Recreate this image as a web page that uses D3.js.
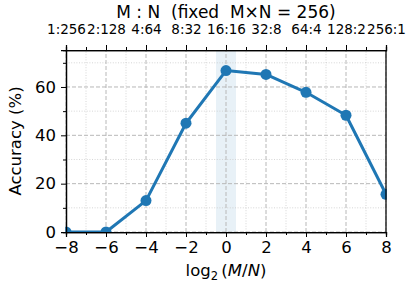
<!DOCTYPE html>
<html><head><meta charset="utf-8">
<script src="https://cdn.jsdelivr.net/npm/d3@7"></script>
<style>body{margin:0;background:#fff}svg{font-family:"DejaVu Sans",sans-serif}</style>
</head><body><div id="c"></div>
<script>
const xs = [-8, -6, -4, -2, 0, 2, 4, 6, 8];
const acc = [0, 0, 13, 45, 66.8, 65.2, 57.8, 48.3, 15.6];
const topLabels = ["1:256", "2:128", "4:64", "8:32", "16:16", "32:8", "64:4", "128:2", "256:1"];
const yTicks = [0, 20, 40, 60];
const xTicks = [-8, -6, -4, -2, 0, 2, 4, 6, 8];

const W = 406, H = 285;
const m = {l: 66, r: 20, t: 50, b: 53};
const svg = d3.select("#c").append("svg").attr("width", W).attr("height", H);
const x = d3.scaleLinear().domain([-8, 8]).range([m.l, W - m.r]);
const y = d3.scaleLinear().domain([0, 75.3]).range([H - m.b, m.t]);
const color = "#1f77b4";

// highlight band
svg.append("rect").attr("x", x(-0.5)).attr("width", x(0.5) - x(-0.5))
  .attr("y", y.range()[1]).attr("height", y.range()[0] - y.range()[1])
  .attr("fill", color).attr("opacity", 0.1);

// grids
const g = svg.append("g");
d3.range(-7, 8, 2).forEach(v => g.append("line").attr("x1", x(v)).attr("x2", x(v)).attr("y1", y.range()[0]).attr("y2", y.range()[1])
  .attr("stroke", "#ccc").attr("stroke-width", 0.8).attr("stroke-dasharray", "1,1.6"));
[10, 30, 50, 70].forEach(v => g.append("line").attr("x1", m.l).attr("x2", W - m.r).attr("y1", y(v)).attr("y2", y(v))
  .attr("stroke", "#ccc").attr("stroke-width", 0.8).attr("stroke-dasharray", "1,1.6"));
xTicks.forEach(v => g.append("line").attr("x1", x(v)).attr("x2", x(v)).attr("y1", y.range()[0]).attr("y2", y.range()[1])
  .attr("stroke", "#b8b8b8").attr("stroke-width", 1).attr("stroke-dasharray", "4,2"));
yTicks.forEach(v => g.append("line").attr("x1", m.l).attr("x2", W - m.r).attr("y1", y(v)).attr("y2", y(v))
  .attr("stroke", "#b8b8b8").attr("stroke-width", 1).attr("stroke-dasharray", "4,2"));

// line + points
const pts = xs.map((v, i) => [v, acc[i]]);
svg.append("path").datum(pts).attr("fill", "none").attr("stroke", color).attr("stroke-width", 3)
  .attr("stroke-linejoin", "round")
  .attr("d", d3.line().x(d => x(d[0])).y(d => y(d[1])));
svg.append("g").selectAll("circle").data(pts).join("circle")
  .attr("cx", d => x(d[0])).attr("cy", d => y(d[1])).attr("r", 5.5).attr("fill", color);

// clip marks at frame
svg.append("rect").attr("x", 0).attr("y", H - m.b + 0.75).attr("width", W).attr("height", m.b).attr("fill", "#fff");
svg.append("rect").attr("x", 0).attr("y", 0).attr("width", m.l - 0.75).attr("height", H).attr("fill", "#fff");
svg.append("rect").attr("x", W - m.r + 0.75).attr("y", 0).attr("width", m.r).attr("height", H).attr("fill", "#fff");

// axes
const fmt = d => (d < 0 ? "\u2212" + Math.abs(d) : "" + d);
const xb = svg.append("g").attr("transform", `translate(0,${H - m.b})`)
  .call(d3.axisBottom(x).tickValues(xTicks).tickFormat(fmt).tickSize(5).tickPadding(4));
svg.append("g").attr("transform", `translate(0,${H - m.b})`)
  .call(d3.axisBottom(x).tickValues(d3.range(-7, 8, 2)).tickFormat("").tickSize(3));
const yl = svg.append("g").attr("transform", `translate(${m.l},0)`)
  .call(d3.axisLeft(y).tickValues(yTicks).tickSize(5).tickPadding(5));
svg.append("g").attr("transform", `translate(${m.l},0)`)
  .call(d3.axisLeft(y).tickValues([10, 30, 50, 70]).tickFormat("").tickSize(3));
const xt = svg.append("g").attr("transform", `translate(0,${m.t})`)
  .call(d3.axisTop(x).tickValues(xTicks).tickFormat((d, i) => topLabels[i]).tickSize(5).tickPadding(11));
svg.append("g").attr("transform", `translate(0,${m.t})`)
  .call(d3.axisTop(x).tickValues(d3.range(-7, 8, 2)).tickFormat("").tickSize(3));
svg.append("line").attr("x1", W - m.r).attr("x2", W - m.r).attr("y1", m.t).attr("y2", H - m.b).attr("stroke", "#000").attr("stroke-width", 1.25);

svg.selectAll(".domain").attr("stroke", "#000").attr("stroke-width", 1.25);
svg.selectAll(".tick line").attr("stroke", "#000").attr("stroke-width", 1);
[xb, yl].forEach(a => a.selectAll("text").attr("font-family", "DejaVu Sans").attr("font-size", 16.5).attr("fill", "#000"));
xt.selectAll("text").attr("font-family", "DejaVu Sans").attr("font-size", 13.5).attr("fill", "#000");

// labels
svg.append("text").attr("x", (m.l + W - m.r) / 2).attr("y", 17.5).attr("text-anchor", "middle")
  .attr("font-size", 17).text("M : N\u00a0\u00a0(fixed\u00a0\u00a0M\u00d7N = 256)");
const xlab = svg.append("text").attr("x", (m.l + W - m.r) / 2).attr("y", 276).attr("text-anchor", "middle").attr("font-size", 16.5);
xlab.append("tspan").text("log");
xlab.append("tspan").attr("font-size", 11.5).attr("dy", 4).text("2");
xlab.append("tspan").attr("dy", -4).text("\u2009(");
xlab.append("tspan").attr("font-style", "italic").text("M");
xlab.append("tspan").text("/");
xlab.append("tspan").attr("font-style", "italic").text("N");
xlab.append("tspan").text(")");
svg.append("text").attr("transform", `translate(21,${(m.t + H - m.b) / 2}) rotate(-90)`).attr("text-anchor", "middle")
  .attr("font-size", 16.5).text("Accuracy (%)");
</script></body></html>
